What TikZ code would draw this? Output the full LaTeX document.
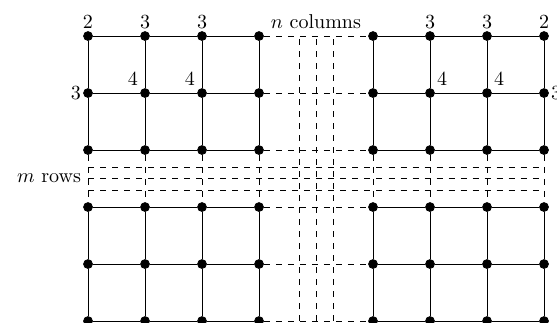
\documentclass[tikz,border=0pt]{standalone}
\usepackage{amsmath,amssymb}
\usetikzlibrary{positioning}
\tikzset{
  site/.style={
    inner sep = 0.055cm,
    shape = circle,
    draw,
    fill
  },
  gap/.style={
    dashed
  },
}

\begin{document}
\begin{tikzpicture}
  \useasboundingbox (-1.544,0.632) rectangle (8.228,-5.018);
  % sites of the four corner blocks
  \foreach \x [count=\i] in {0,1,2,3,5,6,7,8}{
    \foreach \y [count=\j] in {0,-1,-2,-3,-4,-5}{
      \node[site] (s\i-\j) at (\x,\y) {};
    }
  }
  % solid bonds
  \foreach \j in {1,...,6}{
    \foreach \i/\k in {1/2,2/3,3/4,5/6,6/7,7/8}{
      \draw (s\i-\j) -- (s\k-\j);
    }
    \draw[gap] (s4-\j) -- (s5-\j);
  }
  \foreach \i in {1,...,8}{
    \foreach \j/\l in {1/2,2/3,4/5,5/6}{
      \draw (s\i-\j) -- (s\i-\l);
    }
    \draw[gap] (s\i-3) -- (s\i-4);
  }
  % the m rows and n columns left out
  \foreach \y [count=\k] in {-2.3,-2.5,-2.7}{
    \coordinate (r\k-w) at (0,\y);
    \coordinate (r\k-e) at (8,\y);
    \draw[gap] (r\k-w) -- (r\k-e);
  }
  \foreach \x [count=\k] in {3.7,4,4.3}{
    \coordinate (c\k-s) at (\x,-5);
    \coordinate (c\k-n) at (\x,0);
    \draw[gap] (c\k-s) -- (c\k-n);
  }
  % degrees
  \foreach \i/\d in {1/2,2/3,3/3,6/3,7/3,8/2}{
    \node[above] (d\i) at (s\i-1) {$\d$};
  }
  \node[left] (e1) at (s1-2) {$3$};
  \node[right] (e8) at (s8-2) {$3$};
  \node[above left] (f2) at (s2-2) {$4$};
  \node[above left] (f3) at (s3-2) {$4$};
  \node[above right] (f6) at (s6-2) {$4$};
  \node[above right] (f7) at (s7-2) {$4$};
  \node[above] (ncols) at (c2-n) {$n$ columns};
  \node[left] (mrows) at (r2-w) {$m$ rows};
\end{tikzpicture}
\end{document}
